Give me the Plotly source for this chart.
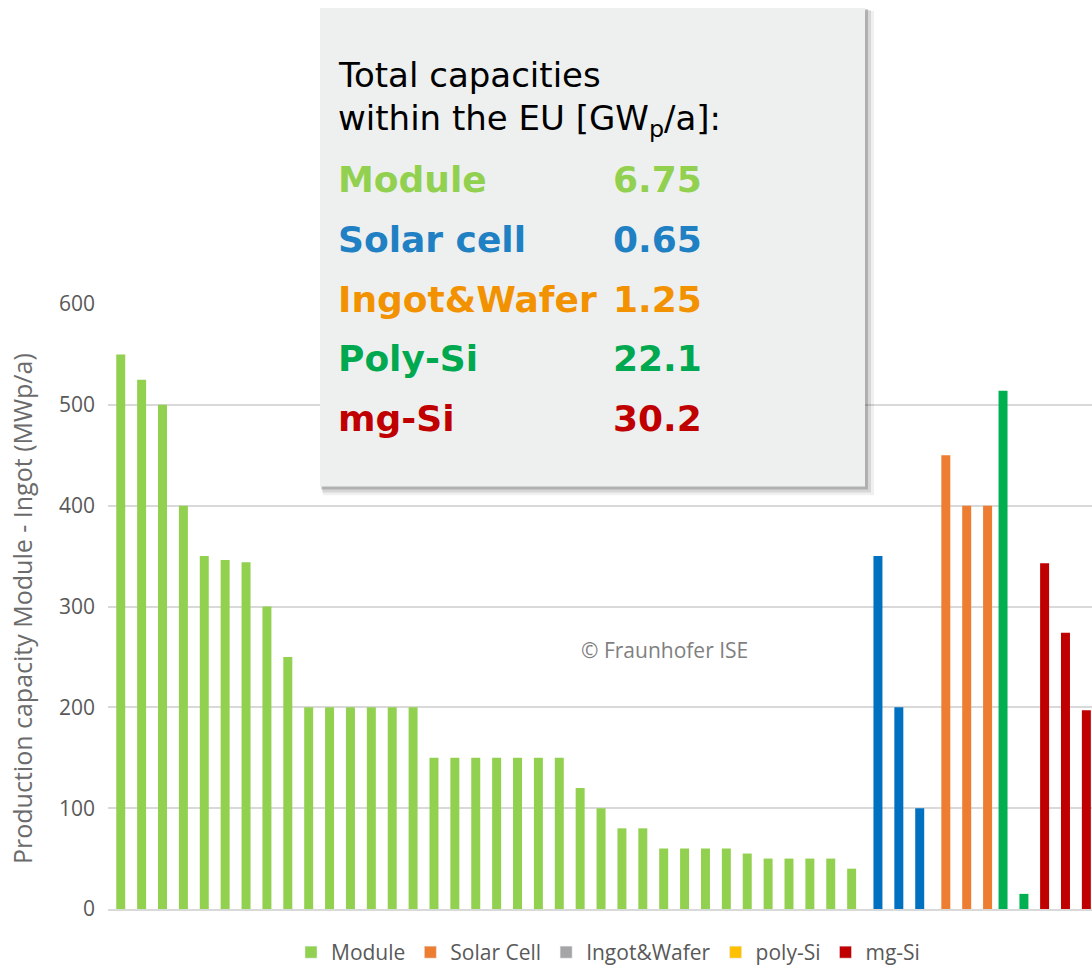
import plotly.graph_objects as go

# ---------------- data ----------------
module_values = [550, 525, 500, 400, 350, 346, 344, 300, 250,
                 200, 200, 200, 200, 200, 200,
                 150, 150, 150, 150, 150, 150, 150,
                 120, 100, 80, 80, 60, 60, 60, 60, 55, 50, 50, 50, 50, 40]
cell_values = [350, 200, 100]
wafer_values = [450, 400, 400]
polysi_values = [514, 15]
mgsi_values = [343, 274, 197]

module_cats = [f"Module {i+1}" for i in range(len(module_values))]
cell_cats = [f"Cell {i+1}" for i in range(len(cell_values))]
wafer_cats = [f"Wafer {i+1}" for i in range(len(wafer_values))]
polysi_cats = [f"Poly-Si {i+1}" for i in range(len(polysi_values))]
mgsi_cats = [f"mg-Si {i+1}" for i in range(len(mgsi_values))]
all_cats = module_cats + cell_cats + wafer_cats + polysi_cats + mgsi_cats

legend_names = ["Module", "Solar Cell", "Ingot&Wafer", "poly-Si", "mg-Si"]
legend_colors = ["#92d050", "#ed7d31", "#a5a5a5", "#ffc000", "#c00000"]

box_labels = ["Module", "Solar cell", "Ingot&Wafer", "Poly-Si", "mg-Si"]
box_values = ["6.75", "0.65", "1.25", "22.1", "30.2"]
box_colors = ["#92d050", "#1f80c3", "#f39200", "#00a84f", "#c00000"]

# ---------------- layout helpers ----------------
FIG_W, FIG_H = 1092, 973
L, R, T, B = 108, 1092, 304, 911
PW, PH = R - L, B - T


def px(xp):
    return (xp - L) / PW


def py(yp):
    return (B - yp) / PH


BAR_W = 0.43
fig = go.Figure()

series = [
    (module_cats, module_values, "#92d050", 0.0),
    (cell_cats, cell_values, "#0070c0", 0.26),
    (wafer_cats, wafer_values, "#ed7d31", 0.51),
    (polysi_cats, polysi_values, "#00b050", 0.25),
    (mgsi_cats, mgsi_values, "#c00000", 0.24),
]
for cats, vals, col, shift in series:
    fig.add_trace(go.Bar(
        x=cats, y=vals, marker=dict(color=col, line=dict(width=0)),
        width=BAR_W, offset=-BAR_W / 2 + shift, showlegend=False,
        hoverinfo="x+y"))

# legend entries (legend colours differ from bar colours in the original)
for name, col in zip(legend_names, legend_colors):
    fig.add_trace(go.Bar(x=[None], y=[None], name=name,
                         marker=dict(color=col), showlegend=True))

# ---------------- text box ----------------
shapes = [
    dict(type="rect", xref="paper", yref="paper",
         x0=px(323), x1=px(874), y0=py(10), y1=py(496),
         fillcolor="rgba(0,0,0,0.06)", line=dict(width=0), layer="above"),
    dict(type="rect", xref="paper", yref="paper",
         x0=px(322), x1=px(871), y0=py(9), y1=py(493),
         fillcolor="rgba(0,0,0,0.10)", line=dict(width=0), layer="above"),
    dict(type="rect", xref="paper", yref="paper",
         x0=px(321), x1=px(868), y0=py(8), y1=py(490),
         fillcolor="rgba(0,0,0,0.18)", line=dict(width=0), layer="above"),
    dict(type="rect", xref="paper", yref="paper",
         x0=px(320), x1=px(865), y0=py(7), y1=py(487),
         fillcolor="#eef0ef", line=dict(width=0), layer="above"),
]

HEAD_FONT = "DejaVu Sans"
annotations = [
    dict(text="Total capacities", x=px(336), y=py(74), xref="paper", yref="paper",
         xanchor="left", yanchor="middle", showarrow=False,
         font=dict(family=HEAD_FONT, size=34, color="#000000")),
    dict(text="within the EU [GW<sub>p</sub>/a]:", x=px(336), y=py(120),
         xref="paper", yref="paper", xanchor="left", yanchor="middle",
         showarrow=False, font=dict(family=HEAD_FONT, size=34, color="#000000")),
]
row_y = [179, 239, 299, 359, 419]
for lab, val, col, yy in zip(box_labels, box_values, box_colors, row_y):
    annotations.append(dict(
        text=f"<b>{lab}</b>", x=px(336), y=py(yy), xref="paper", yref="paper",
        xanchor="left", yanchor="middle", showarrow=False,
        font=dict(family=HEAD_FONT, size=36, color=col)))
    annotations.append(dict(
        text=f"<b>{val}</b>", x=px(704), y=py(yy), xref="paper", yref="paper",
        xanchor="right", yanchor="middle", showarrow=False,
        font=dict(family=HEAD_FONT, size=36, color=col)))

annotations.append(dict(
    text="© Fraunhofer ISE", x=px(664), y=py(651), xref="paper", yref="paper",
    xanchor="center", yanchor="middle", showarrow=False,
    font=dict(family="Open Sans", size=21, color="#7f7f7f")))

annotations.append(dict(
    text="Production capacity Module - Ingot (MWp/a)", x=px(22), y=py(610),
    xref="paper", yref="paper", xanchor="center", yanchor="middle",
    textangle=-90, showarrow=False,
    font=dict(family="Open Sans", size=25, color="#6b6b6b")))

fig.update_layout(
    width=FIG_W, height=FIG_H,
    margin=dict(l=L, r=FIG_W - R, t=T, b=FIG_H - B),
    paper_bgcolor="#ffffff", plot_bgcolor="#ffffff",
    barmode="overlay",
    shapes=shapes, annotations=annotations,
    showlegend=True,
    legend=dict(orientation="h", x=px(608), xanchor="center", y=py(955),
                yanchor="middle", font=dict(family="Open Sans", size=21,
                                             color="#595959"),
                itemwidth=30, traceorder="normal"),
    xaxis=dict(type="category", categoryorder="array", categoryarray=all_cats,
               range=[-0.61, 46.51], showticklabels=False, ticks="",
               showgrid=False, showline=True, linecolor="#d9d9d9", linewidth=1.5,
               zeroline=False, fixedrange=True),
    yaxis=dict(range=[0, 600], tickvals=[0, 100, 200, 300, 400, 500, 600],
               showgrid=True, gridcolor="#d9d9d9", gridwidth=1.5,
               zeroline=False, showline=False, ticks="",
               tickfont=dict(family="Open Sans", size=21, color="#595959"),
               ticklabelstandoff=12, fixedrange=True),
)

fig.write_html(
    "out.html",
    config={"displayModeBar": False},
    post_script="document.body.style.margin='0px';"
                "document.body.style.overflow='hidden';")
